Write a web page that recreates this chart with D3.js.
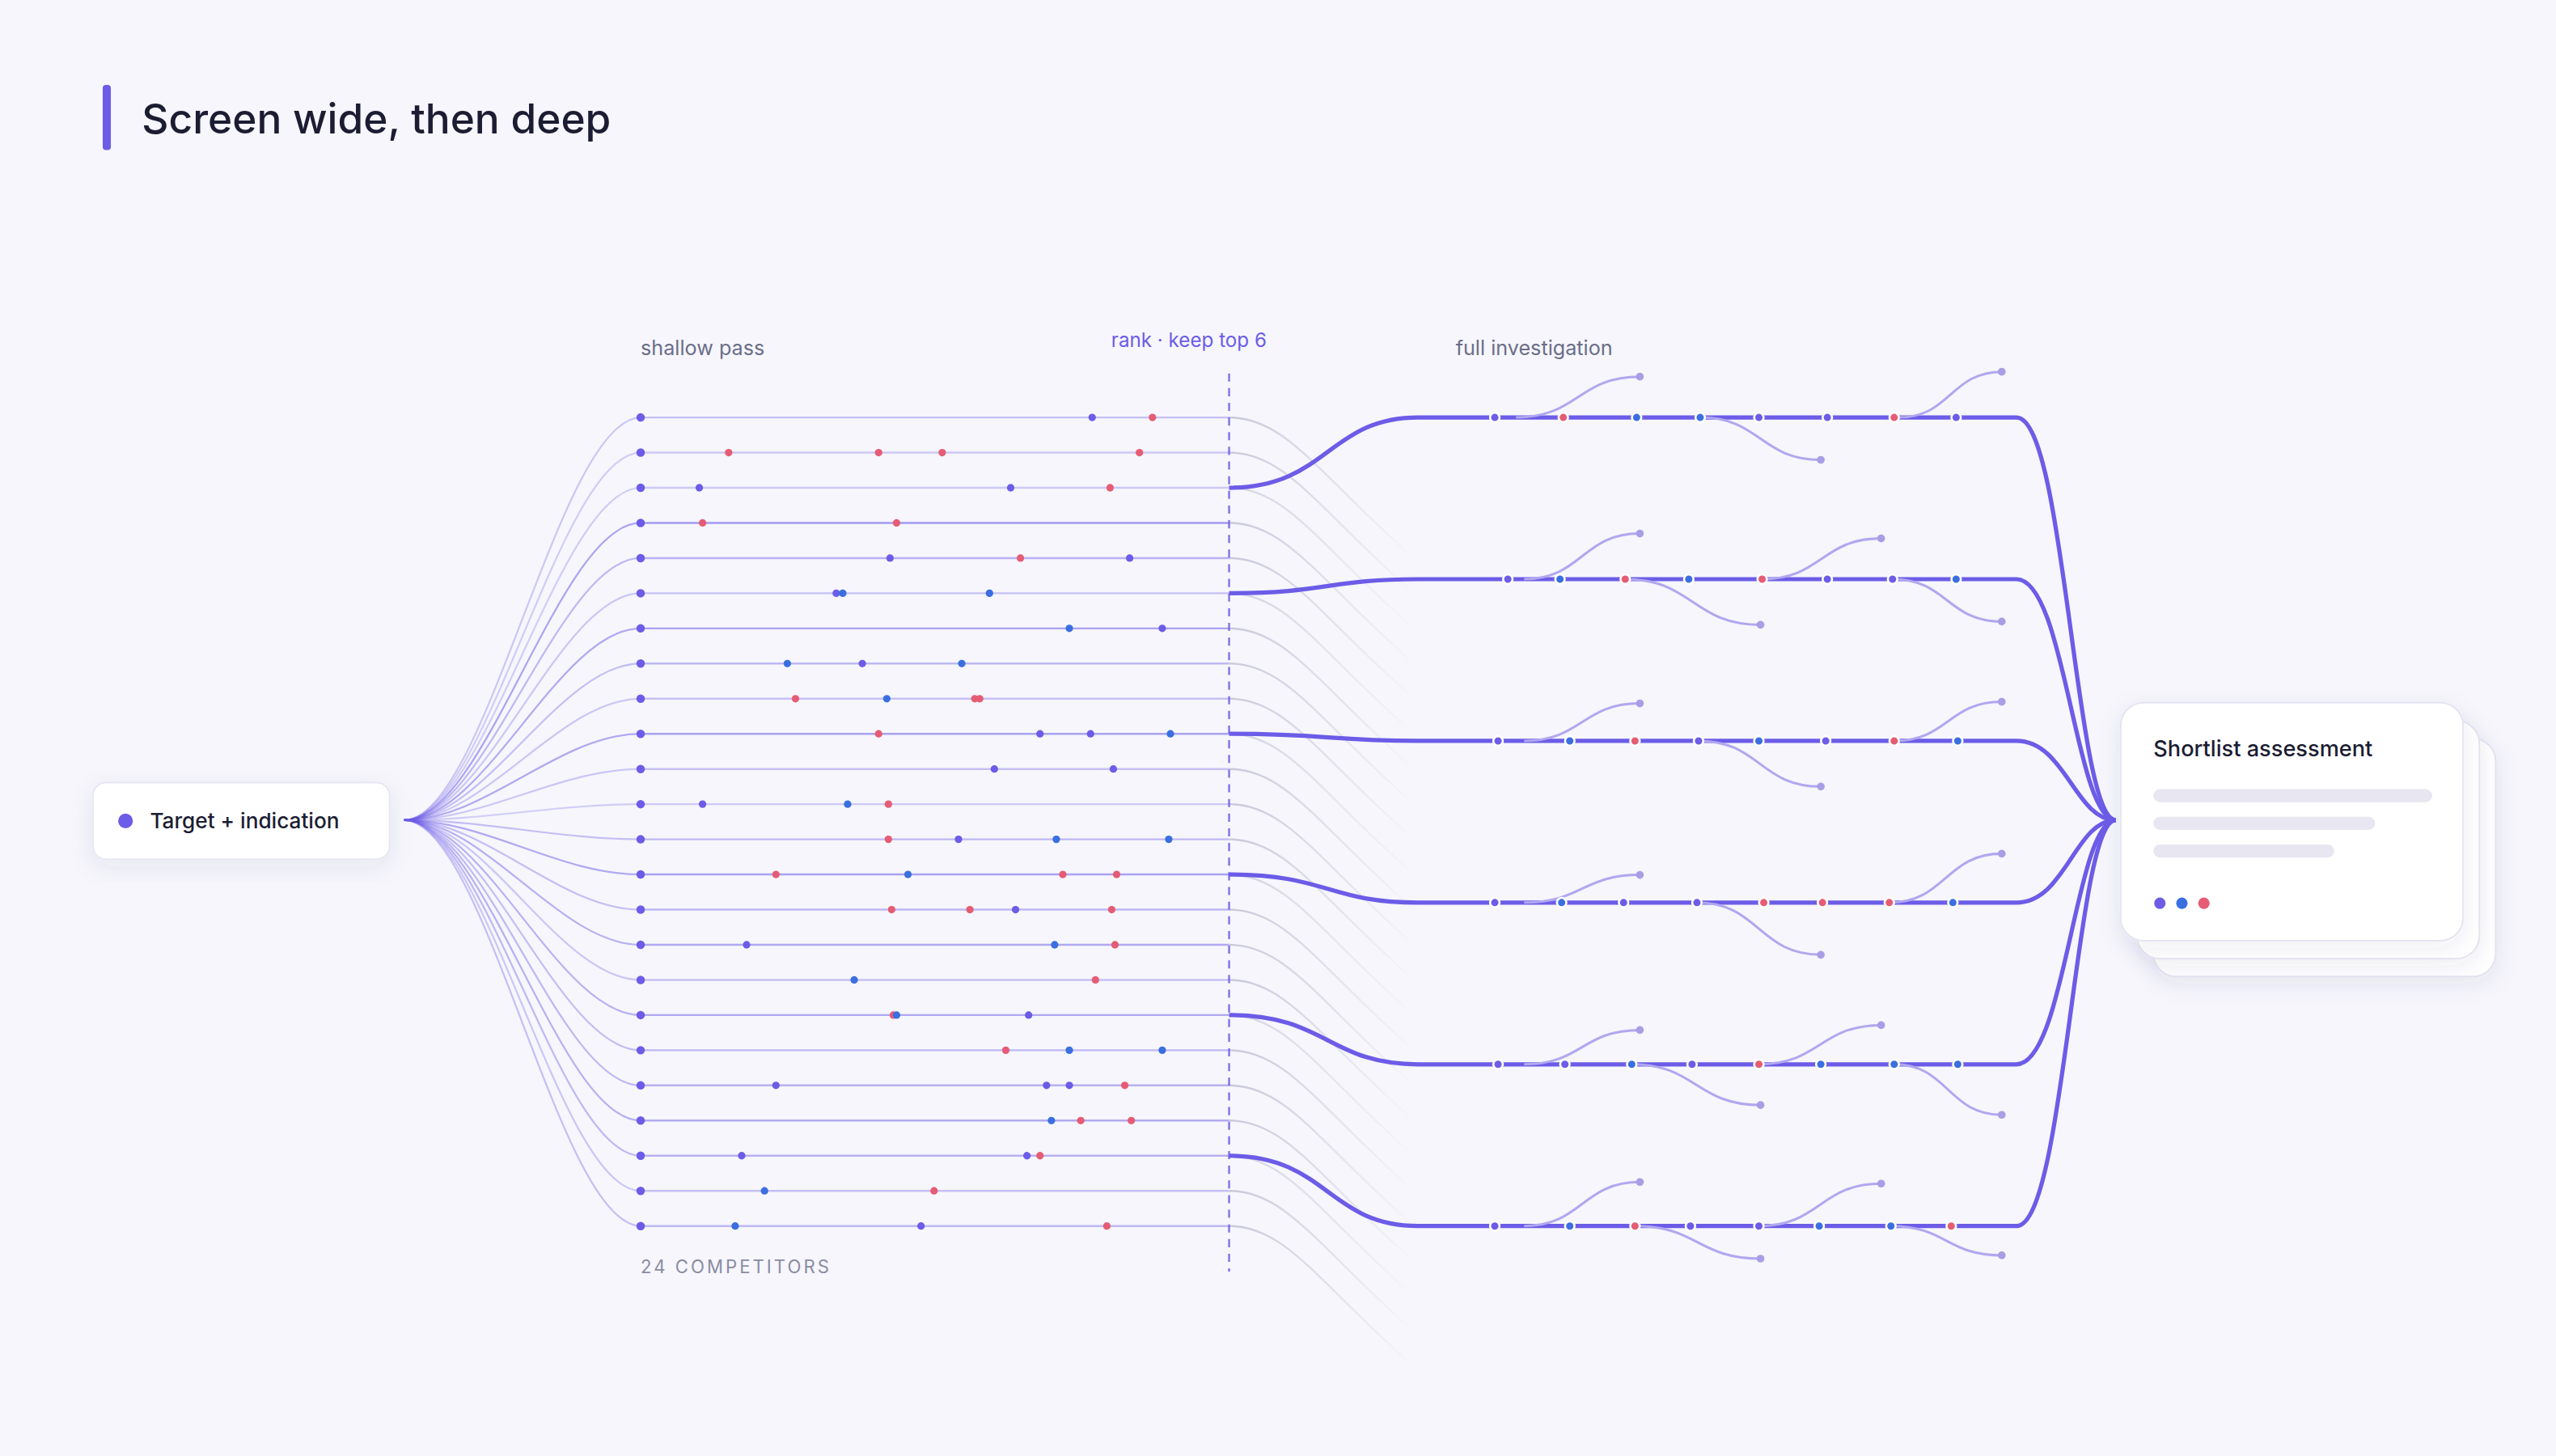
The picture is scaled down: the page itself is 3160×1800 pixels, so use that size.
<!DOCTYPE html>
<html>
<head>
<meta charset="utf-8">
<script src="https://cdn.jsdelivr.net/npm/d3@7"></script>
<style>
  html, body { margin: 0; padding: 0; background: #f6f6fc; }
  svg { display: block; font-family: Inter, "Noto Sans", sans-serif; }
</style>
</head>
<body>
<svg id="chart"></svg>
<script>
// shallow-pass findings per competitor: [offset along pass, kind]
const competitorFindings = [
  [[277, "p"], [314, "r"]],
  [[54, "r"], [146, "r"], [185, "r"], [306, "r"]],
  [[36, "p"], [227, "p"], [288, "r"]],
  [[38, "r"], [157, "r"]],
  [[153, "p"], [233, "r"], [300, "p"]],
  [[120, "p"], [124, "b"], [214, "b"]],
  [[263, "b"], [320, "p"]],
  [[90, "b"], [136, "p"], [197, "b"]],
  [[95, "r"], [151, "b"], [205, "r"], [208, "r"]],
  [[146, "r"], [245, "p"], [276, "p"], [325, "b"]],
  [[217, "p"], [290, "p"]],
  [[38, "p"], [127, "b"], [152, "r"]],
  [[152, "r"], [195, "p"], [255, "b"], [324, "b"]],
  [[83, "r"], [164, "b"], [259, "r"], [292, "r"]],
  [[154, "r"], [202, "r"], [230, "p"], [289, "r"]],
  [[65, "p"], [254, "b"], [291, "r"]],
  [[131, "b"], [279, "r"]],
  [[155, "r"], [157, "b"], [238, "p"]],
  [[224, "r"], [263, "b"], [320, "b"]],
  [[83, "p"], [249, "p"], [263, "p"], [297, "r"]],
  [[252, "b"], [270, "r"], [301, "r"]],
  [[62, "p"], [237, "p"], [245, "r"]],
  [[76, "b"], [180, "r"]],
  [[58, "b"], [172, "p"], [286, "r"]]
];
const rowStrength = [0.35, 0.3, 0.3, 0.6, 0.45, 0.35, 0.55, 0.4, 0.35, 0.55, 0.35, 0.3,
                     0.4, 0.55, 0.4, 0.5, 0.35, 0.5, 0.4, 0.45, 0.5, 0.45, 0.35, 0.4];
const keptRows = [2, 5, 9, 13, 17, 21];

// deep investigation per kept competitor
const laneFindings = [
  [[47, "p"], [89, "r"], [134, "b"], [173, "b"], [209, "p"], [251, "p"], [292, "r"], [330, "p"]],
  [[55, "p"], [87, "b"], [127, "r"], [166, "b"], [211, "r"], [251, "p"], [291, "p"], [330, "b"]],
  [[49, "p"], [93, "b"], [133, "r"], [172, "p"], [209, "b"], [250, "p"], [292, "r"], [331, "b"]],
  [[47, "p"], [88, "b"], [126, "p"], [171, "p"], [212, "r"], [248, "r"], [289, "r"], [328, "b"]],
  [[49, "p"], [90, "p"], [131, "b"], [168, "p"], [209, "r"], [247, "b"], [292, "b"], [331, "b"]],
  [[47, "p"], [93, "b"], [133, "r"], [167, "p"], [209, "p"], [246, "b"], [290, "b"], [327, "r"]]
];
// side threads: [from, to, dy]
const laneBranches = [
  [[60, 136, -25], [173, 247, 26], [295, 358, -28]],
  [[65, 136, -28], [127, 210, 28], [211, 284, -25], [291, 358, 26]],
  [[65, 136, -23], [172, 247, 28], [292, 358, -24]],
  [[65, 136, -17], [171, 247, 32], [289, 358, -30]],
  [[65, 136, -21], [131, 210, 25], [209, 284, -24], [292, 358, 31]],
  [[65, 136, -27], [133, 210, 20], [209, 284, -26], [290, 358, 18]]
];

const title = "Screen wide, then deep";
const sourceLabel = "Target + indication";
const cardTitle = "Shortlist assessment";

const W = 1568, H = 893;
const color = { p: "#6c5ce7", b: "#3b6fe0", r: "#e55c74" };
const purple = "#6c5ce7";

const svg = d3.select("#chart")
  .attr("width", 3160).attr("height", 1800)
  .attr("viewBox", `0 0 ${W} ${H}`);

svg.append("rect").attr("width", W).attr("height", H).attr("fill", "#f6f6fc");

const defs = svg.append("defs");
const shadow = defs.append("filter").attr("id", "shadow")
  .attr("x", "-20%").attr("y", "-20%").attr("width", "140%").attr("height", "150%");
shadow.append("feDropShadow").attr("dx", 0).attr("dy", 4).attr("stdDeviation", 7)
  .attr("flood-color", "#3a3070").attr("flood-opacity", 0.08);
const fade = defs.append("linearGradient").attr("id", "fade")
  .attr("gradientUnits", "userSpaceOnUse").attr("x1", 754).attr("x2", 868).attr("y1", 0).attr("y2", 0);
fade.append("stop").attr("offset", 0).attr("stop-color", "#c4c3d6").attr("stop-opacity", 0.9);
fade.append("stop").attr("offset", 1).attr("stop-color", "#c4c3d6").attr("stop-opacity", 0);

// title
svg.append("rect").attr("x", 63).attr("y", 52).attr("width", 5).attr("height", 40).attr("rx", 2).attr("fill", purple);
svg.append("text").attr("x", 87).attr("y", 82).text(title)
  .attr("font-size", 25.5).attr("font-weight", 500).attr("fill", "#1c1d33");

// scales
const y = d3.scalePoint().domain(d3.range(competitorFindings.length)).range([256, 752]);
const x = d3.scaleLinear().domain([0, 361]).range([393, 754]);
const laneY = d3.scalePoint().domain(d3.range(keptRows.length)).range([256, 752]);
const lx = d3.scaleLinear().domain([0, 367]).range([870, 1237]);

const src = { x: 248, y: 503 };
const sink = { x: 1298, y: 503 };
const link = d3.linkHorizontal();

// fan out
svg.append("g").selectAll("path").data(competitorFindings).join("path")
  .attr("d", (d, i) => `M${src.x},${src.y} C${src.x + 50},${src.y} ${x(0) - 50},${y(i)} ${x(0)},${y(i)}`)
  .attr("fill", "none").attr("stroke", purple)
  .attr("stroke-opacity", (d, i) => rowStrength[i] * 0.9).attr("stroke-width", 1.1);

// rows
svg.append("g").selectAll("line").data(competitorFindings).join("line")
  .attr("x1", x(0)).attr("x2", x(361)).attr("y1", (d, i) => y(i)).attr("y2", (d, i) => y(i))
  .attr("stroke", purple).attr("stroke-opacity", (d, i) => rowStrength[i]).attr("stroke-width", 1.2);

// competitors fade out past the cutoff
svg.append("g").selectAll("path").data(d3.range(competitorFindings.length)).join("path")
  .attr("d", i => `M${x(361)},${y(i)} C${x(361) + 35},${y(i)} ${x(361) + 55},${y(i) + 35} ${x(361) + 112},${y(i) + 85}`)
  .attr("fill", "none").attr("stroke", "url(#fade)").attr("stroke-width", 1.2)
  .attr("opacity", i => keptRows.includes(i) ? 0.8 : 1);

// start dots + findings
const rowG = svg.append("g");
competitorFindings.forEach((row, i) => {
  rowG.append("circle").attr("cx", x(0)).attr("cy", y(i)).attr("r", 2.6).attr("fill", purple);
  rowG.selectAll(null).data(row).join("circle")
    .attr("cx", d => x(d[0])).attr("cy", y(i)).attr("r", 2.3).attr("fill", d => color[d[1]]);
});

// cutoff line
svg.append("line").attr("x1", x(361)).attr("x2", x(361)).attr("y1", 229).attr("y2", 780)
  .attr("stroke", purple).attr("stroke-width", 1.2).attr("stroke-dasharray", "5,4").attr("opacity", 0.85);

// labels
const label = (t, px, py, fill, anchor) => svg.append("text").text(t).attr("x", px).attr("y", py)
  .attr("font-size", 12.5).attr("fill", fill).attr("text-anchor", anchor || "start");
label("shallow pass", 393, 218, "#6b6e88");
label("rank · keep top 6", 777, 213, purple, "end").attr("font-size", 12);
label("full investigation", 893, 218, "#6b6e88");
label("24 COMPETITORS", 393, 781, "#8a8ca3").attr("font-size", 11).attr("letter-spacing", 1.5);

// kept lanes
const lanes = svg.append("g");
keptRows.forEach((r, k) => {
  const ly = laneY(k);
  lanes.append("path")
    .attr("d", `M${x(361)},${y(r)} C${x(361) + 60},${y(r)} ${lx(0) - 55},${ly} ${lx(0)},${ly} H${lx(367)} C${lx(367) + 30},${ly} ${sink.x - 25},${sink.y} ${sink.x},${sink.y}`)
    .attr("fill", "none").attr("stroke", purple).attr("stroke-width", 2.6);
  lanes.selectAll(null).data(laneBranches[k]).join("path")
    .attr("d", d => link({ source: [lx(d[0]), ly], target: [lx(d[1]), ly + d[2]] }))
    .attr("fill", "none").attr("stroke", "#b1a7ef").attr("stroke-width", 1.5);
  lanes.selectAll(null).data(laneBranches[k]).join("circle")
    .attr("cx", d => lx(d[1])).attr("cy", d => ly + d[2]).attr("r", 2.4).attr("fill", "#a99ee6");
  lanes.selectAll(null).data(laneFindings[k]).join("circle")
    .attr("cx", d => lx(d[0])).attr("cy", ly).attr("r", 2.9).attr("fill", d => color[d[1]])
    .attr("stroke", "#fff").attr("stroke-width", 1.3);
});

// source node
svg.append("rect").attr("x", 57).attr("y", 480).attr("width", 182).attr("height", 47).attr("rx", 8)
  .attr("fill", "#fff").attr("stroke", "#e8e6f4").attr("filter", "url(#shadow)");
svg.append("circle").attr("cx", 77).attr("cy", 503.5).attr("r", 4.5).attr("fill", purple);
svg.append("text").attr("x", 92).attr("y", 508).text(sourceLabel)
  .attr("font-size", 13).attr("font-weight", 500).attr("fill", "#1c1d33");

// shortlist card stack
[20, 10, 0].forEach(o => {
  svg.append("rect").attr("x", 1301 + o).attr("y", 431 + o * 1.1).attr("width", 210).attr("height", 146)
    .attr("rx", 14).attr("fill", "#fff").attr("stroke", "#e6e4f2").attr("stroke-width", 1)
    .attr("filter", "url(#shadow)");
});
svg.append("text").attr("x", 1321).attr("y", 464).text(cardTitle)
  .attr("font-size", 13.5).attr("font-weight", 500).attr("fill", "#1c1d33");
[171, 136, 111].forEach((w, i) => {
  svg.append("rect").attr("x", 1321).attr("y", 484 + i * 17).attr("width", w).attr("height", 8)
    .attr("rx", 4).attr("fill", "#e8e7f1");
});
["p", "b", "r"].forEach((c, i) => {
  svg.append("circle").attr("cx", 1325 + i * 13.5).attr("cy", 554).attr("r", 3.5).attr("fill", color[c]);
});
</script>
</body>
</html>
